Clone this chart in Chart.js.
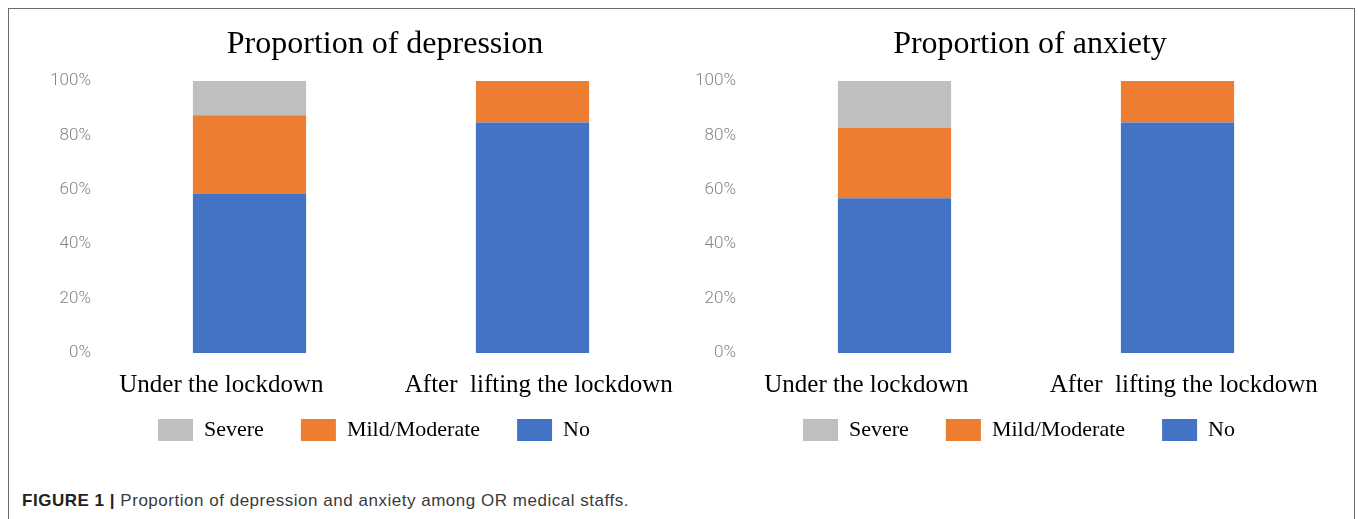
<!DOCTYPE html>
<html>
<head>
<meta charset="utf-8">
<script src="https://cdn.jsdelivr.net/npm/chart.js@4.4.0/dist/chart.umd.min.js"></script>
<style>
  body { margin: 0; background: #fff; width: 1358px; height: 519px; overflow: hidden; position: relative; }
  #marco { position: absolute; left: 8px; top: 8px; width: 1345px; height: 600px; border: 1.5px solid #6b6b6b; }
  .caja { position: absolute; top: 0; width: 680px; height: 460px; }
  #caja1 { left: 0; }
  #caja2 { left: 645px; }
  #pie { position: absolute; left: 22px; top: 491px; font-family: "Liberation Sans", Arial, sans-serif; font-size: 17px; letter-spacing: 0.52px; color: #3a3a3a; white-space: nowrap; }
  #pie b { color: #222; }
</style>
</head>
<body>
<div id="marco"></div>
<div class="caja" id="caja1"><canvas id="graficoDepresion"></canvas></div>
<div class="caja" id="caja2"><canvas id="graficoAnsiedad"></canvas></div>
<div id="pie"><b>FIGURE 1 |</b> Proportion of depression and anxiety among OR medical staffs.</div>

<script>
// categorias del eje x
const categorias = ['Under the lockdown', 'After  lifting the lockdown'];
const ticksY = [0, 20, 40, 60, 80, 100];

// valores (%)
const depresionNo = [58.5, 84.7];
const depresionLeve = [28.9, 15.3];
const depresionSevera = [12.6, 0];

const ansiedadNo = [56.9, 84.7];
const ansiedadLeve = [25.8, 15.3];
const ansiedadSevera = [17.3, 0];

const colorNo = '#4472C4';
const colorLeve = '#ED7D31';
const colorSevera = '#BFBFBF';

const serif = '"Liberation Serif", "Times New Roman", serif';

function crearGrafico(idCanvas, titulo, no, leve, severa) {
    const ctx = document.getElementById(idCanvas);
    return new Chart(ctx, {
        type: 'bar',
        data: {
            labels: categorias,
            datasets: [
                { label: 'No', data: no, backgroundColor: colorNo },
                { label: 'Mild/Moderate', data: leve, backgroundColor: colorLeve },
                { label: 'Severe', data: severa, backgroundColor: colorSevera }
            ]
        },
        options: {
            responsive: true,
            maintainAspectRatio: false,
            animation: false,
            datasets: { bar: { barPercentage: 0.5, categoryPercentage: 0.8 } },
            layout: { padding: { left: 96, right: 6, top: 0, bottom: 9 } },
            plugins: {
                tooltip: { enabled: false },
                title: {
                    display: true,
                    text: titulo,
                    color: '#000',
                    font: { family: serif, size: 32, weight: 'normal' },
                    padding: { top: 25, bottom: 17.6 }
                },
                legend: {
                    position: 'bottom',
                    reverse: true,
                    labels: {
                        color: '#000',
                        boxWidth: 35,
                        boxHeight: 22,
                        padding: 37,
                        font: { family: serif, size: 22 },
                        // el ultimo item lleva espacios para correr la leyenda a la izquierda como en el original
                        generateLabels: function (chart) {
                            const items = Chart.defaults.plugins.legend.labels.generateLabels(chart);
                            items.forEach(it => { it.lineWidth = 0; });
                            items[0].text = items[0].text + '    ';
                            return items;
                        }
                    }
                }
            },
            scales: {
                x: {
                    stacked: true,
                    grid: { display: false },
                    border: { display: false },
                    ticks: {
                        color: '#000',
                        padding: 9,
                        maxRotation: 0,
                        autoSkip: false,
                        font: { family: serif, size: 25 },
                        callback: function (v, i) {
                            // en el original las etiquetas no quedan centradas bajo la barra
                            if (i === 0) return categorias[i] + '         ';
                            return '  ' + categorias[i];
                        }
                    },
                    afterFit: function (escala) {
                        escala.height = 29;
                        escala.paddingLeft = 0;
                        escala.paddingRight = 0;
                        escala._computeLabelArea = function () {}; // sin recorte de etiquetas
                    }
                },
                y: {
                    stacked: true,
                    min: 0,
                    max: 100,
                    grid: { display: false },
                    border: { display: false },
                    afterBuildTicks: function (escala) {
                        escala.ticks = ticksY.map(v => ({ value: v }));
                    },
                    ticks: {
                        color: '#858585',
                        padding: 9,
                        font: { family: 'Roboto, "Noto Sans", sans-serif', size: 17, weight: 300 },
                        callback: function (v) { return v + '%'; }
                    },
                    afterFit: function (escala) {
                        escala.width = 12;
                        escala._computeLabelArea = function () {};
                    }
                }
            }
        }
    });
}

crearGrafico('graficoDepresion', 'Proportion of depression', depresionNo, depresionLeve, depresionSevera);
crearGrafico('graficoAnsiedad', 'Proportion of anxiety', ansiedadNo, ansiedadLeve, ansiedadSevera);
</script>
</body>
</html>
